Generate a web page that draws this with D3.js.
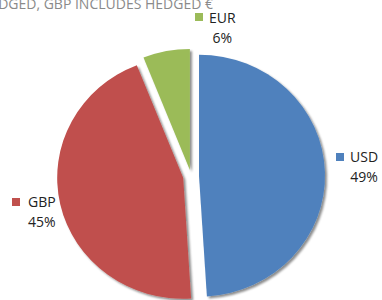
<!DOCTYPE html>
<html>
<head>
<meta charset="utf-8">
<script src="https://cdn.jsdelivr.net/npm/d3@7"></script>
<style>
  body { margin: 0; background: #fff; }
  svg { display: block; }
</style>
</head>
<body>
<div id="chart"></div>
<script>
var currencies = ["USD", "GBP", "EUR"];
var shares = [49, 45, 6];
var colors = ["#4f81bd", "#c0504d", "#9bbb59"];
var titleText = "EUR UNHEDGED, GBP INCLUDES HEDGED €";

var width = 382, height = 300;
var cx = 191, cy = 176, ry = 121, rx = 126;
var explode = [8, 8, 6];

var svg = d3.select("#chart").append("svg")
    .attr("width", width)
    .attr("height", height)
    .style("font-family", "'Open Sans', sans-serif");

var defs = svg.append("defs");
var shadow = defs.append("filter").attr("id", "shadow")
    .attr("x", "-10%").attr("y", "-10%").attr("width", "130%").attr("height", "130%");
shadow.append("feDropShadow")
    .attr("dx", 2).attr("dy", 2).attr("stdDeviation", 1.2)
    .attr("flood-color", "#000").attr("flood-opacity", 0.45);

// title, cut off at the left edge like the original
svg.append("text")
    .attr("x", 213)
    .attr("y", 9)
    .attr("text-anchor", "end")
    .style("font-size", "14px")
    .style("fill", "#8a8a8a")
    .text(titleText);

var data = currencies.map(function(c, i) {
    return { name: c, value: shares[i], color: colors[i], explode: explode[i] };
});

var pie = d3.pie()
    .sort(null)
    .value(function(d) { return d.value; });

var arc = d3.arc()
    .innerRadius(0)
    .outerRadius(ry);

var g = svg.append("g")
    .attr("transform", "translate(" + cx + "," + cy + ") scale(" + (rx / ry) + ",1)");

g.selectAll("path")
    .data(pie(data))
    .enter().append("path")
    .attr("d", arc)
    .attr("fill", function(d) { return d.data.color; })
    .attr("filter", "url(#shadow)")
    .attr("transform", function(d) {
        var mid = (d.startAngle + d.endAngle) / 2;
        var dx = Math.sin(mid) * d.data.explode * ry / rx;
        var dy = -Math.cos(mid) * d.data.explode;
        return "translate(" + dx + "," + dy + ")";
    });

// labels: legend square + name, percentage underneath (same order as currencies)
var labels = [
    { x: 350, y: 162, sq: [336, 153] },
    { x: 28, y: 207, sq: [12, 198] },
    { x: 209, y: 23, sq: [195, 13] }
];

var lab = svg.selectAll(".lab")
    .data(data)
    .enter().append("g")
    .attr("class", "lab");

lab.append("rect")
    .attr("x", function(d, i) { return labels[i].sq[0]; })
    .attr("y", function(d, i) { return labels[i].sq[1]; })
    .attr("width", 8)
    .attr("height", 8)
    .attr("fill", function(d) { return d.color; });

lab.append("text")
    .attr("class", "name")
    .attr("x", function(d, i) { return labels[i].x; })
    .attr("y", function(d, i) { return labels[i].y; })
    .style("font-size", "14px")
    .style("fill", "#222")
    .text(function(d) { return d.name; });

lab.each(function(d, i) {
    var t = d3.select(this).select(".name").node();
    var w = t.getComputedTextLength();
    d3.select(this).append("text")
        .attr("x", labels[i].x + w / 2)
        .attr("y", labels[i].y + 20)
        .attr("text-anchor", "middle")
        .style("font-size", "14px")
        .style("fill", "#222")
        .text(d.value + "%");
});
</script>
</body>
</html>
